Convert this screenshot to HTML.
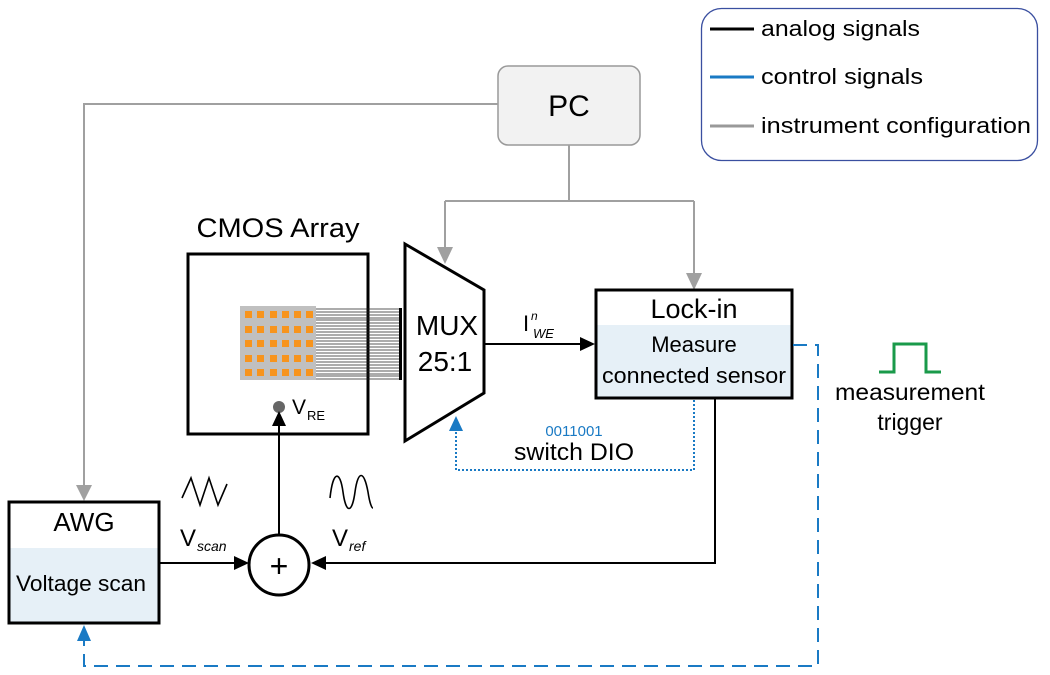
<!DOCTYPE html>
<html><head><meta charset="utf-8"><style>
html,body{margin:0;padding:0;background:#fff;}
svg{display:block;font-family:"Liberation Sans",sans-serif;}
</style></head><body>
<svg width="1050" height="675" viewBox="0 0 1050 675" xmlns="http://www.w3.org/2000/svg">
<!-- Legend -->
<rect x="701.5" y="8.5" width="336" height="152" rx="20" fill="#fff" stroke="#3a4fa0" stroke-width="1.3"/>
<line x1="710" y1="29" x2="754" y2="29" stroke="#000" stroke-width="3"/>
<line x1="710" y1="77" x2="754" y2="77" stroke="#1a7ac4" stroke-width="3"/>
<line x1="710" y1="126" x2="754" y2="126" stroke="#999" stroke-width="3"/>
<text x="761" y="36" font-size="22" textLength="159" lengthAdjust="spacingAndGlyphs">analog signals</text>
<text x="761" y="84" font-size="22" textLength="162" lengthAdjust="spacingAndGlyphs">control signals</text>
<text x="761" y="133" font-size="22" textLength="270" lengthAdjust="spacingAndGlyphs">instrument configuration</text>

<!-- PC -->
<rect x="498" y="66" width="142" height="79" rx="10" fill="#f2f2f2" stroke="#999" stroke-width="1.5"/>
<text x="569" y="116" font-size="30" text-anchor="middle">PC</text>

<!-- gray lines -->
<g stroke="#a0a0a0" stroke-width="2" fill="none">
<polyline points="498,104 84,104 84,486"/>
<polyline points="569,145 569,201"/>
<polyline points="445,201 694,201"/>
<polyline points="445,201 445,248"/>
<polyline points="694,201 694,274"/>
</g>
<g fill="#a0a0a0">
<polygon points="76,485 92,485 84,501"/>
<polygon points="437,247 453,247 445,264"/>
<polygon points="686,273 702,273 694,290"/>
</g>

<!-- CMOS -->
<text x="278" y="237" font-size="27" text-anchor="middle" textLength="163" lengthAdjust="spacingAndGlyphs">CMOS Array</text>
<rect x="188" y="254" width="180" height="180" fill="#fff" stroke="#000" stroke-width="3"/>
<rect x="240" y="306" width="76" height="74" fill="#c0c0c0"/>
<g fill="#f7941d">
<rect x="245" y="311" width="7" height="7"/><rect x="257" y="311" width="7" height="7"/><rect x="270" y="311" width="7" height="7"/><rect x="282" y="311" width="7" height="7"/><rect x="294" y="311" width="7" height="7"/><rect x="306" y="311" width="7" height="7"/>
<rect x="245" y="326" width="7" height="7"/><rect x="257" y="326" width="7" height="7"/><rect x="270" y="326" width="7" height="7"/><rect x="282" y="326" width="7" height="7"/><rect x="294" y="326" width="7" height="7"/><rect x="306" y="326" width="7" height="7"/>
<rect x="245" y="340" width="7" height="7"/><rect x="257" y="340" width="7" height="7"/><rect x="270" y="340" width="7" height="7"/><rect x="282" y="340" width="7" height="7"/><rect x="294" y="340" width="7" height="7"/><rect x="306" y="340" width="7" height="7"/>
<rect x="245" y="355" width="7" height="7"/><rect x="257" y="355" width="7" height="7"/><rect x="270" y="355" width="7" height="7"/><rect x="282" y="355" width="7" height="7"/><rect x="294" y="355" width="7" height="7"/><rect x="306" y="355" width="7" height="7"/>
<rect x="245" y="369" width="7" height="7"/><rect x="257" y="369" width="7" height="7"/><rect x="270" y="369" width="7" height="7"/><rect x="282" y="369" width="7" height="7"/><rect x="294" y="369" width="7" height="7"/><rect x="306" y="369" width="7" height="7"/>
</g>
<g stroke="#222" stroke-width="0.8">
<line x1="316" y1="309" x2="401" y2="309"/><line x1="316" y1="312" x2="401" y2="312"/><line x1="316" y1="315" x2="401" y2="315"/><line x1="316" y1="318" x2="401" y2="318"/><line x1="316" y1="320" x2="401" y2="320"/>
<line x1="316" y1="323" x2="401" y2="323"/><line x1="316" y1="326" x2="401" y2="326"/><line x1="316" y1="329" x2="401" y2="329"/><line x1="316" y1="332" x2="401" y2="332"/><line x1="316" y1="335" x2="401" y2="335"/>
<line x1="316" y1="338" x2="401" y2="338"/><line x1="316" y1="341" x2="401" y2="341"/><line x1="316" y1="344" x2="401" y2="344"/><line x1="316" y1="347" x2="401" y2="347"/><line x1="316" y1="350" x2="401" y2="350"/>
<line x1="316" y1="353" x2="401" y2="353"/><line x1="316" y1="356" x2="401" y2="356"/><line x1="316" y1="359" x2="401" y2="359"/><line x1="316" y1="362" x2="401" y2="362"/><line x1="316" y1="365" x2="401" y2="365"/>
<line x1="316" y1="368" x2="401" y2="368"/><line x1="316" y1="371" x2="401" y2="371"/><line x1="316" y1="374" x2="401" y2="374"/><line x1="316" y1="376" x2="401" y2="376"/><line x1="316" y1="379" x2="401" y2="379"/>
</g>
<rect x="399" y="308" width="3" height="72" fill="#000"/>
<circle cx="279" cy="407" r="6" fill="#666"/>
<text x="292" y="414" font-size="21">V</text><text x="307" y="420" font-size="13">RE</text>

<!-- MUX -->
<polygon points="405,244 484,290 484,393 405,441" fill="#fff" stroke="#000" stroke-width="3"/>
<text x="447" y="335" font-size="28" text-anchor="middle">MUX</text>
<text x="445" y="371" font-size="28" text-anchor="middle">25:1</text>

<!-- I_WE arrow -->
<line x1="484" y1="344" x2="582" y2="344" stroke="#000" stroke-width="2"/>
<polygon points="580,337 595,344 580,351" fill="#000"/>
<text x="523" y="331" font-size="22">I</text>
<text x="531" y="320" font-size="12" font-style="italic">n</text>
<text x="533" y="338" font-size="13" font-style="italic">WE</text>

<!-- Lock-in -->
<rect x="596" y="290" width="196" height="108" fill="#fff" stroke="#000" stroke-width="3"/>
<rect x="597.5" y="325" width="193" height="71.5" fill="#e6f0f7"/>
<text x="694" y="318" font-size="27" text-anchor="middle">Lock-in</text>
<text x="694" y="352" font-size="22" text-anchor="middle">Measure</text>
<text x="694" y="383" font-size="22" text-anchor="middle" textLength="184" lengthAdjust="spacingAndGlyphs">connected sensor</text>

<!-- dotted DIO -->
<polyline points="694,400 694,470 456,470 456,430" fill="none" stroke="#1a7ac4" stroke-width="2" stroke-dasharray="2,2"/>
<polygon points="449,431 463,431 456,416" fill="#1a7ac4"/>
<text x="574" y="436" font-size="15" fill="#1a7ac4" text-anchor="middle">0011001</text>
<text x="574" y="460" font-size="24" text-anchor="middle" textLength="120" lengthAdjust="spacingAndGlyphs">switch DIO</text>

<!-- lockin ref out -->
<polyline points="715,398 715,563 325,563" fill="none" stroke="#000" stroke-width="2"/>
<polygon points="326,556 311,563 326,570" fill="#000"/>

<!-- summer -->
<circle cx="279" cy="565" r="30" fill="#fff" stroke="#000" stroke-width="3"/>
<text x="279" y="577" font-size="32" text-anchor="middle">+</text>
<line x1="279" y1="535" x2="279" y2="425" stroke="#000" stroke-width="2"/>
<polygon points="272,426 286,426 279,411" fill="#000"/>
<line x1="159" y1="563" x2="236" y2="563" stroke="#000" stroke-width="2"/>
<polygon points="234,556 249,563 234,570" fill="#000"/>

<!-- waves -->
<polyline points="182,498 191,478 200,505 209,478 218,505 227,484" fill="none" stroke="#000" stroke-width="1.6"/>
<path d="M330,498 C333,470 340,470 343,492 C346,514 352,514 355,492 C358,470 364,470 368,492 C370,505 372,508 373,508" fill="none" stroke="#000" stroke-width="1.6"/>
<text x="180" y="546" font-size="24">V</text><text x="197" y="551" font-size="14" font-style="italic">scan</text>
<text x="332" y="546" font-size="24">V</text><text x="349" y="551" font-size="14" font-style="italic">ref</text>

<!-- AWG -->
<rect x="9" y="502" width="150" height="121" fill="#fff" stroke="#000" stroke-width="3"/>
<rect x="10.5" y="548" width="147" height="73.5" fill="#e6f0f7"/>
<text x="84" y="531" font-size="26" text-anchor="middle">AWG</text>
<text x="81" y="591" font-size="22" text-anchor="middle" textLength="130" lengthAdjust="spacingAndGlyphs">Voltage scan</text>

<!-- dashed trigger -->
<polyline points="793,345 818,345 818,666 84,666 84,640" fill="none" stroke="#1a7ac4" stroke-width="2" stroke-dasharray="14,8"/>
<polygon points="77,641 91,641 84,625" fill="#1a7ac4"/>

<!-- pulse -->
<polyline points="879,372 894,372 894,344 926,344 926,372 941,372" fill="none" stroke="#1a9a4a" stroke-width="3"/>
<text x="910" y="400" font-size="23" text-anchor="middle" textLength="150" lengthAdjust="spacingAndGlyphs">measurement</text>
<text x="910" y="430" font-size="23" text-anchor="middle">trigger</text>
</svg>
</body></html>
